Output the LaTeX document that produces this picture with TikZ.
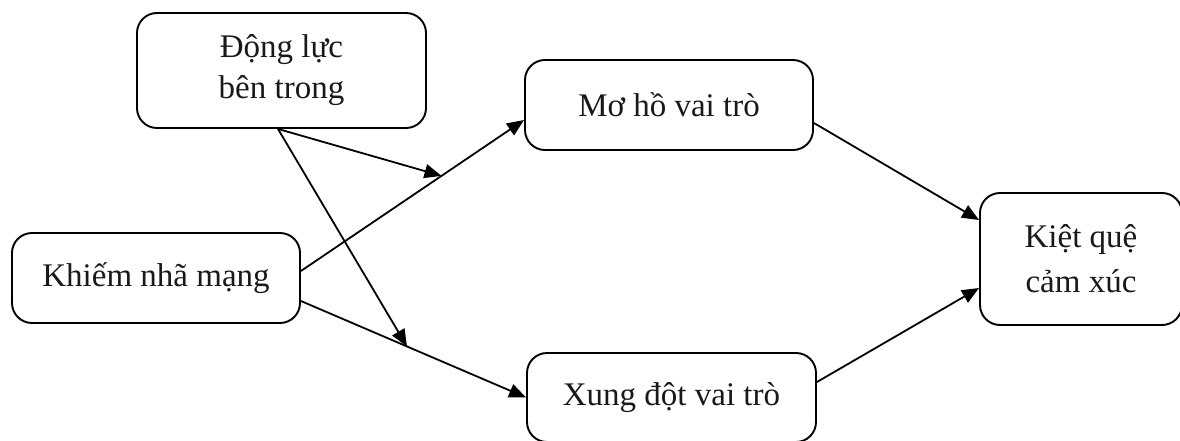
\documentclass[tikz,border=0pt]{standalone}
\usepackage{fontspec}
\setmainfont{Liberation Serif}
\usetikzlibrary{arrows.meta,calc}
\begin{document}
\begin{tikzpicture}[x=1pt,y=-1pt,
  box/.style={draw, line width=1.9pt, rounded corners=20pt, align=center,
    font=\fontsize{33}{41}\selectfont, inner sep=0pt, text=black!90},
  arr/.style={line width=1.8pt, -{Triangle[length=17pt,width=14pt]}}]
\useasboundingbox (0,0) rectangle (1180,441);
\node[box, minimum width=289pt, minimum height=115pt] (dl) at (281.5,70.5) {Động lực\\bên trong};
\node[box, minimum width=288pt, minimum height=90pt] (mh) at (669,105) {Mơ hồ vai trò};
\node[box, minimum width=288pt, minimum height=90pt] (kh) at (156,278) {Khiếm nhã mạng};
\node[box, minimum width=289pt, minimum height=89pt] (xd) at (671.5,397.5) {Xung đột vai trò};
\node[box, minimum width=202pt, minimum height=132pt, font=\fontsize{33}{45}\selectfont] (kq) at (1081,259) {Kiệt quệ\\cảm xúc};
\coordinate (k1) at ([yshift=7pt]kh.east);
\coordinate (k2) at ([yshift=-23pt]kh.east);
\coordinate (mw) at ([yshift=-15pt]mh.west);
\coordinate (m1) at ($(k1)!0.63!(mw)$);
\coordinate (m2) at ($(k2)!0.471!(xd.west)$);
\coordinate (ds) at ([xshift=-3.5pt]dl.south);
\draw[arr] (k1) -- (mw);
\draw[arr] (k2) -- (xd.west);
\draw[arr] (ds) -- (m1);
\draw[arr] (ds) -- (m2);
\draw[arr] ([yshift=-18pt]mh.east) -- ([yshift=39pt]kq.west);
\draw[arr] ([yshift=15.5pt]xd.east) -- ([yshift=-29pt]kq.west);
\end{tikzpicture}
\end{document}
